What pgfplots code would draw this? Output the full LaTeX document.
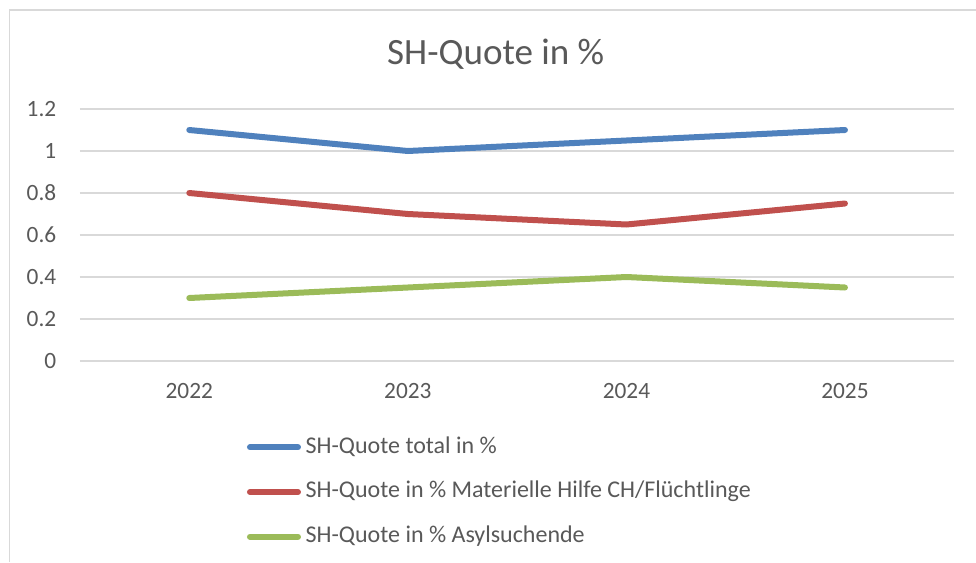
\documentclass[border=0pt]{standalone}
\usepackage{fontspec}
\setmainfont{Carlito}
\usepackage{pgfplots}
\pgfplotsset{compat=1.18}
\definecolor{txt}{HTML}{595959}
\definecolor{grid}{HTML}{D9D9D9}
\definecolor{s1}{HTML}{4F81BD}
\definecolor{s2}{HTML}{C0504D}
\definecolor{s3}{HTML}{9BBB59}
\begin{document}
\begin{tikzpicture}
\useasboundingbox (0,0) rectangle (732pt,421.5pt);
\fill[white] (0,0) rectangle (732pt,421.5pt);
\draw[grid, line width=1.2pt] (7.1pt,0) -- (7.1pt,414pt) -- (740pt,414pt);
\node[anchor=base, text=txt, font=\fontsize{27.8}{31}\selectfont, inner sep=0pt] at (371.8pt,373.4pt) {SH-Quote in \%};
\begin{axis}[
  at={(60pt,150.75pt)}, anchor=south west,
  width=655.7pt, height=189pt, scale only axis,
  xmin=-0.5, xmax=3.5, ymin=0, ymax=1.2,
  xtick={0,1,2,3}, xticklabels={2022,2023,2024,2025},
  ytick={0,0.2,0.4,0.6,0.8,1,1.2},
  yticklabels={0,0.2,0.4,0.6,0.8,1,1.2},
  axis line style={draw=none},
  major tick length=0pt,
  ymajorgrids, major grid style={draw=grid, line width=1.1pt},
  tick label style={text=txt, font=\fontsize{17.5}{20}\selectfont, inner sep=0pt},
  xticklabel style={anchor=center, yshift=-22.5pt},
  yticklabel style={anchor=east, xshift=-17.6pt},
  /pgf/number format/assume math mode=true,
  clip=false,
  legend cell align=left,
  legend style={at={(0.191,-0.520)}, anchor=west, draw=none, fill=none,
    inner sep=0pt, outer sep=0pt, row sep=17pt,
    nodes={inner sep=0pt, text=txt, font=\fontsize{18.0}{21}\selectfont, text height=12.5pt, text depth=4pt},
    /tikz/every odd column/.append style={column sep=3.5pt}},
  legend image code/.code={\draw[#1, line cap=round] (0pt,0pt) -- (36pt,0pt);},
  every axis plot/.append style={line width=4.5pt, line join=round, line cap=round, mark=none},
]
\addplot[s1] coordinates {(0,1.1) (1,1.0) (2,1.05) (3,1.1)};
\addlegendentry{SH-Quote total in \%}
\addplot[s2] coordinates {(0,0.8) (1,0.7) (2,0.65) (3,0.75)};
\addlegendentry{SH-Quote in \% Materielle Hilfe CH/Flüchtlinge}
\addplot[s3] coordinates {(0,0.3) (1,0.35) (2,0.4) (3,0.35)};
\addlegendentry{SH-Quote in \% Asylsuchende}
\end{axis}
\end{tikzpicture}
\end{document}
